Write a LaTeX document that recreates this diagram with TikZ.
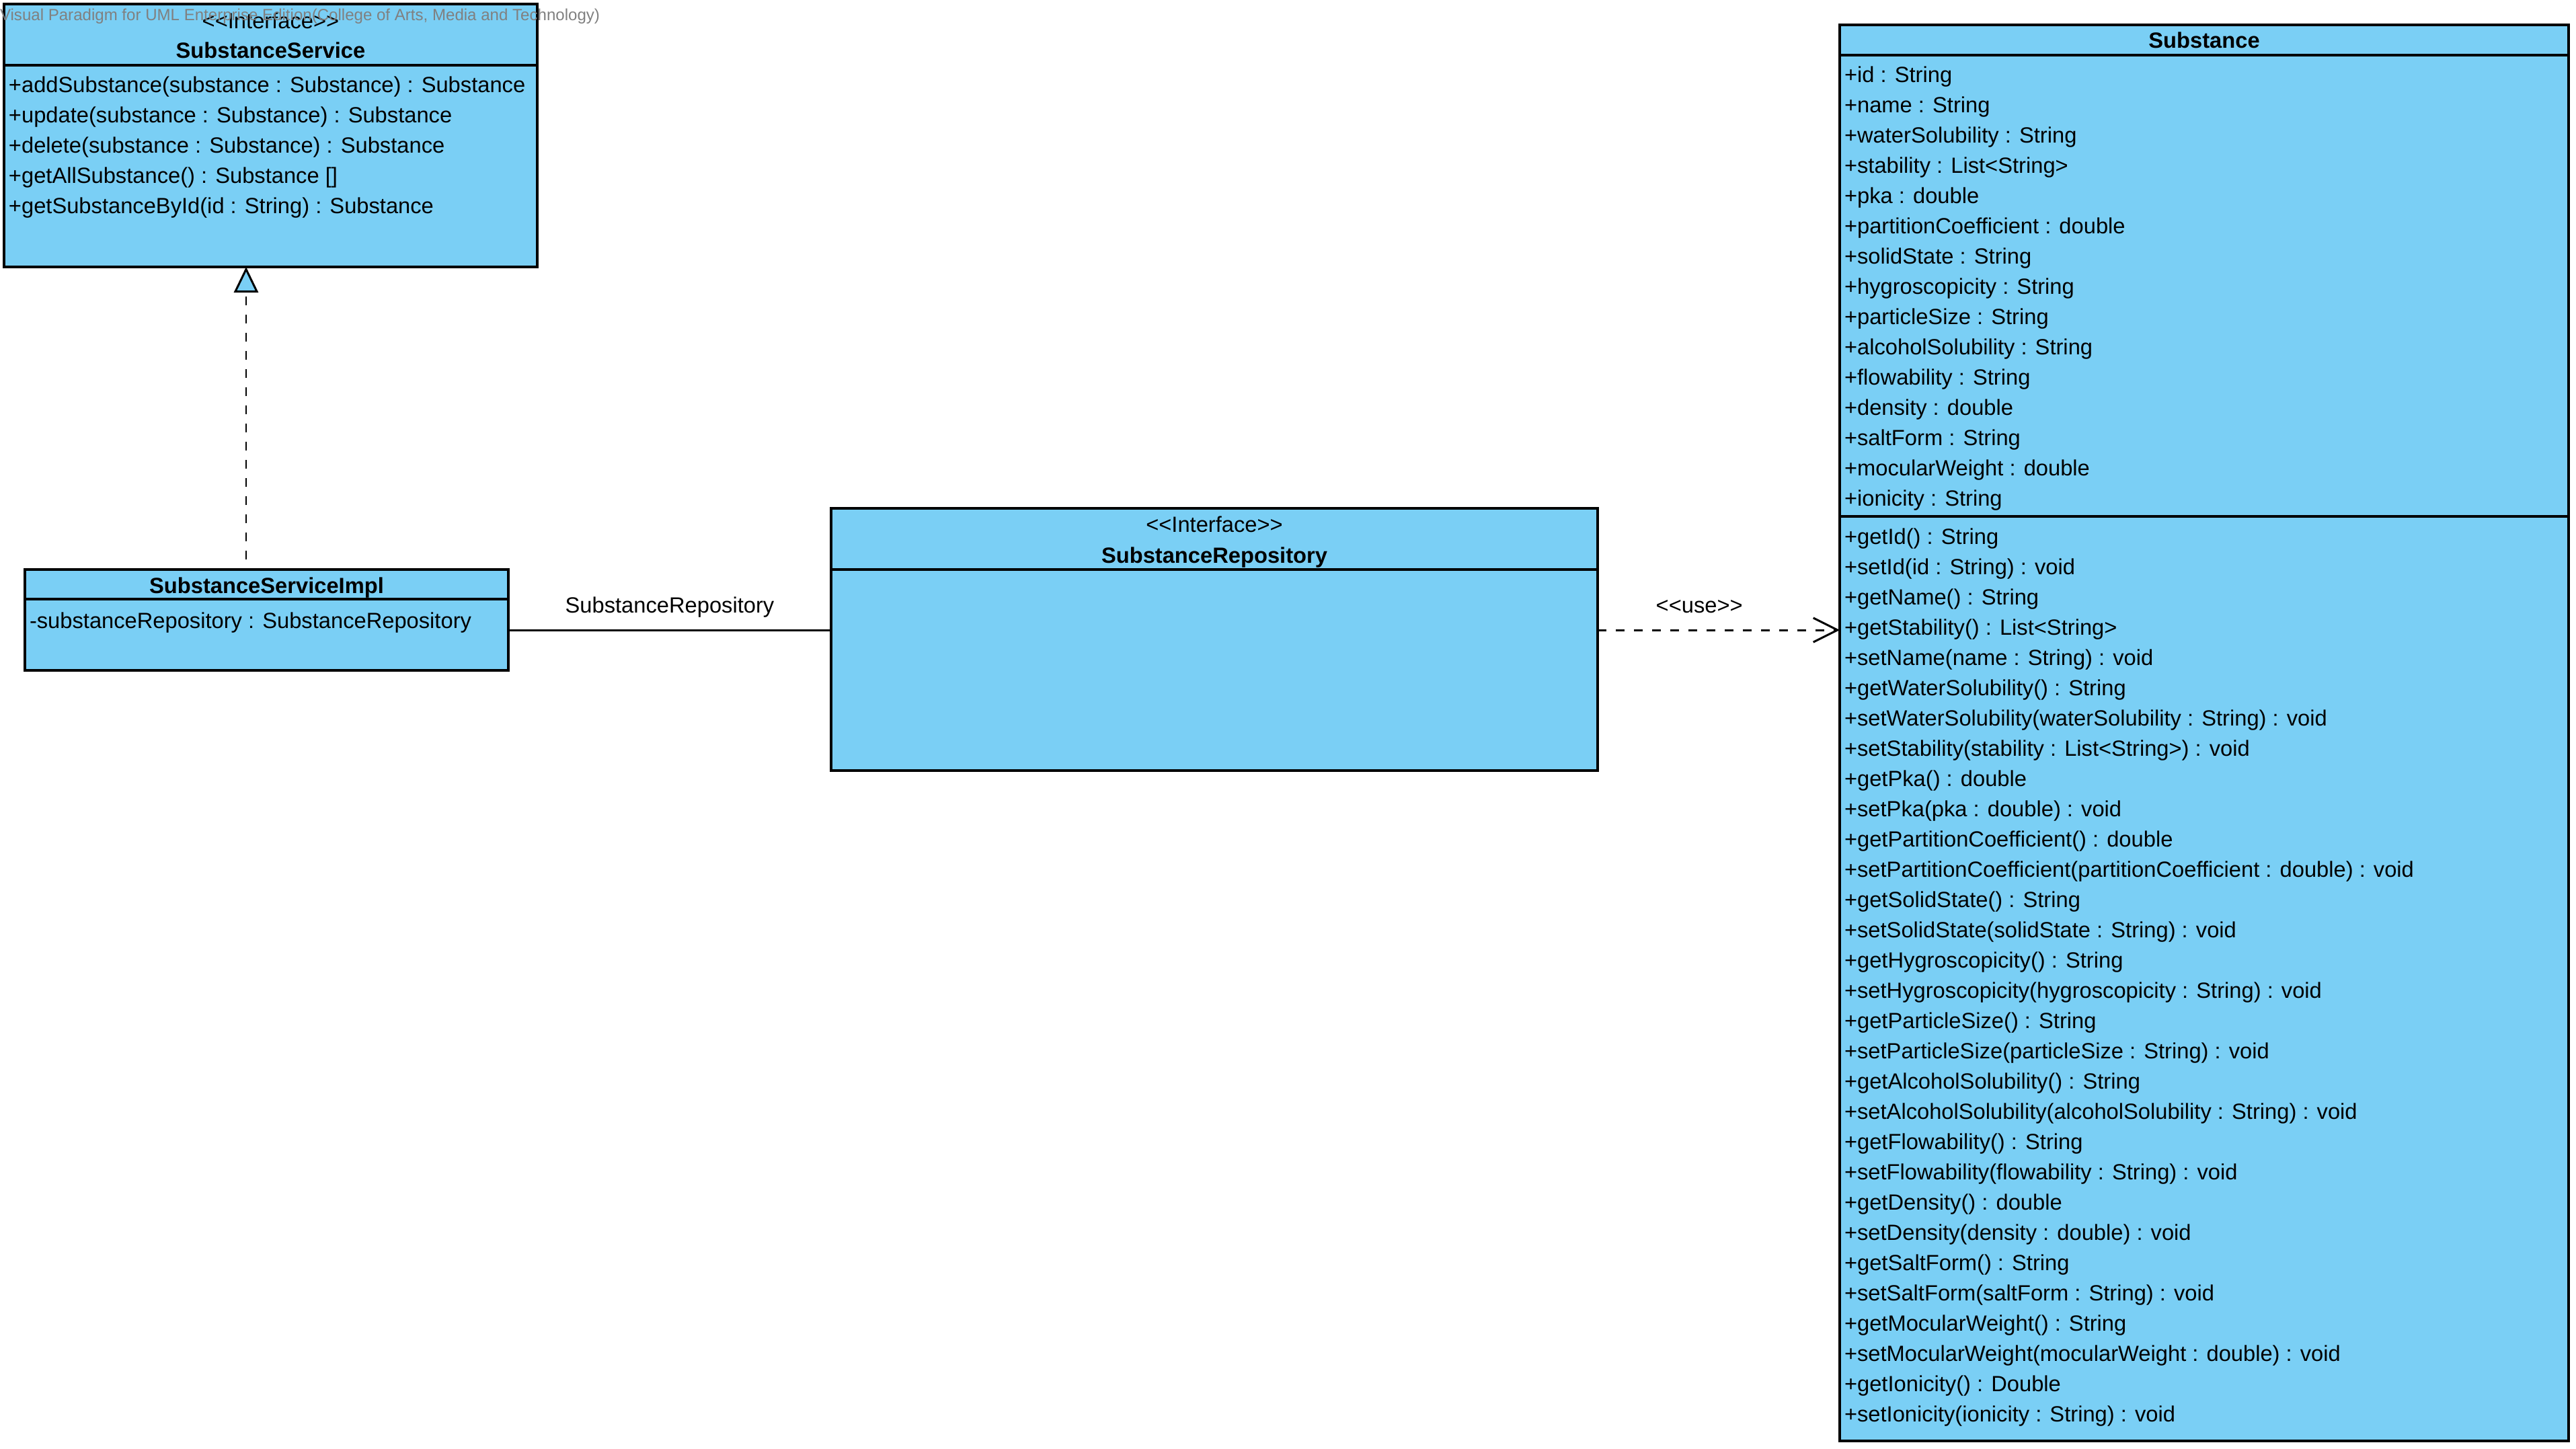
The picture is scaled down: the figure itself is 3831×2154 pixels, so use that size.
\documentclass[tikz,border=0pt]{standalone}
\usepackage{fontspec}
\setmainfont{Liberation Sans}[Ligatures=TeXOff]
\usetikzlibrary{arrows.meta,positioning}
\definecolor{vpblue}{RGB}{122,207,245}
\definecolor{markgray}{RGB}{128,128,128}

\begin{document}
\begin{tikzpicture}[
        x = 0.1mm, y = -0.1mm,
        every node/.style = {font=\fontsize{9.3}{11}\selectfont, inner sep=0pt, outer sep=0pt},
        classbox/.style = {draw, line width=0.9pt, fill=vpblue, anchor=north west},
        compart/.style = {line width=0.9pt},
        member/.style = {anchor=base west},
        stereo/.style = {anchor=base},
        classname/.style = {anchor=base, font=\fontsize{9.3}{11}\selectfont\bfseries},
        realize/.style = {line width=0.85pt, dash pattern=on 1.3mm off 1.4mm,
            -{Triangle[length=3.8mm, width=3.6mm, fill=vpblue]}},
        assoc/.style = {line width=0.85pt},
        dependency/.style = {line width=0.85pt, dash pattern=on 1.3mm off 1.4mm,
            -{Straight Barb[length=3.6mm, width=3.6mm]}},
        ]
    \useasboundingbox (0,0) rectangle (3831,2154);

    % SubstanceService
    \node[classbox, minimum width=79.3mm, minimum height=39.1mm] (ss) at (6,6) {};
    \draw[compart] ([yshift=-9.1mm]ss.north west) -- ([yshift=-9.1mm]ss.north east);
    \node[stereo] (ssst) at ([yshift=-3.6mm]ss.north) {<<Interface>>};
    \node[classname] (ssname) at ([yshift=-8.0mm]ss.north) {SubstanceService};
    \foreach \t [count=\i] in {
            {+addSubstance(substance : Substance) : Substance},
            {+update(substance : Substance) : Substance},
            {+delete(substance : Substance) : Substance},
            {+getAllSubstance() : Substance []},
            {+getSubstanceById(id : String) : Substance}}
        \node[member] (ssop\i) at (13, {137+45*(\i-1)}) {\t};

    % SubstanceServiceImpl
    \node[classbox, minimum width=71.9mm, minimum height=15mm] (impl) at (37,847) {};
    \draw[compart] ([yshift=-4.4mm]impl.north west) -- ([yshift=-4.4mm]impl.north east);
    \node[classname] (implname) at ([yshift=-3.5mm]impl.north) {SubstanceServiceImpl};
    \node[member] (implattr) at (44,934) {-substanceRepository : SubstanceRepository};

    % SubstanceRepository
    \node[classbox, minimum width=114mm, minimum height=39mm] (repo) at (1236,756) {};
    \draw[compart] ([yshift=-9.1mm]repo.north west) -- ([yshift=-9.1mm]repo.north east);
    \node[stereo] (repost) at ([yshift=-3.5mm]repo.north) {<<Interface>>};
    \node[classname] (reponame) at ([yshift=-8.1mm]repo.north) {SubstanceRepository};

    % Substance
    \node[classbox, minimum width=108.4mm, minimum height=210.6mm] (sub) at (2736,37) {};
    \draw[compart] ([yshift=-4.5mm]sub.north west) -- ([yshift=-4.5mm]sub.north east);
    \draw[compart] ([yshift=-73.1mm]sub.north west) -- ([yshift=-73.1mm]sub.north east);
    \node[classname] (subname) at ([yshift=-3.4mm]sub.north) {Substance};
    \foreach \t [count=\i] in {
            {+id : String}, {+name : String}, {+waterSolubility : String},
            {+stability : List<String>}, {+pka : double},
            {+partitionCoefficient : double}, {+solidState : String},
            {+hygroscopicity : String}, {+particleSize : String},
            {+alcoholSolubility : String}, {+flowability : String},
            {+density : double}, {+saltForm : String},
            {+mocularWeight : double}, {+ionicity : String}}
        \node[member] (subattr\i) at (2743, {122+45*(\i-1)}) {\t};
    \foreach \t [count=\i] in {
            {+getId() : String},
            {+setId(id : String) : void},
            {+getName() : String},
            {+getStability() : List<String>},
            {+setName(name : String) : void},
            {+getWaterSolubility() : String},
            {+setWaterSolubility(waterSolubility : String) : void},
            {+setStability(stability : List<String>) : void},
            {+getPka() : double},
            {+setPka(pka : double) : void},
            {+getPartitionCoefficient() : double},
            {+setPartitionCoefficient(partitionCoefficient : double) : void},
            {+getSolidState() : String},
            {+setSolidState(solidState : String) : void},
            {+getHygroscopicity() : String},
            {+setHygroscopicity(hygroscopicity : String) : void},
            {+getParticleSize() : String},
            {+setParticleSize(particleSize : String) : void},
            {+getAlcoholSolubility() : String},
            {+setAlcoholSolubility(alcoholSolubility : String) : void},
            {+getFlowability() : String},
            {+setFlowability(flowability : String) : void},
            {+getDensity() : double},
            {+setDensity(density : double) : void},
            {+getSaltForm() : String},
            {+setSaltForm(saltForm : String) : void},
            {+getMocularWeight() : String},
            {+setMocularWeight(mocularWeight : double) : void},
            {+getIonicity() : Double},
            {+setIonicity(ionicity : String) : void}}
        \node[member] (subop\i) at (2743, {809+45*(\i-1)}) {\t};

    \node[anchor=base west, text=markgray, font=\fontsize{6.85}{8}\selectfont] (mark) at (0,30)
        {Visual Paradigm for UML Enterprise Edition(College of Arts, Media and Technology)};

    % relations
    \coordinate (realfoot) at ([xshift=-3.05mm, yshift=1.5mm]impl.north);
    \draw[realize] (realfoot) -- (realfoot |- ss.south);
    \coordinate (assocfoot) at ([yshift=-1.5mm]impl.east);
    \draw[assoc] (assocfoot) -- (assocfoot -| repo.west)
        node[midway, above=1.9mm] (assoclbl) {SubstanceRepository};
    \coordinate (usefoot) at ([yshift=1.4mm]repo.east);
    \draw[dependency] (usefoot) -- (usefoot -| sub.west)
        node[pos=0.42, above=2.5mm] (uselbl) {<<use>>};
\end{tikzpicture}
\end{document}
